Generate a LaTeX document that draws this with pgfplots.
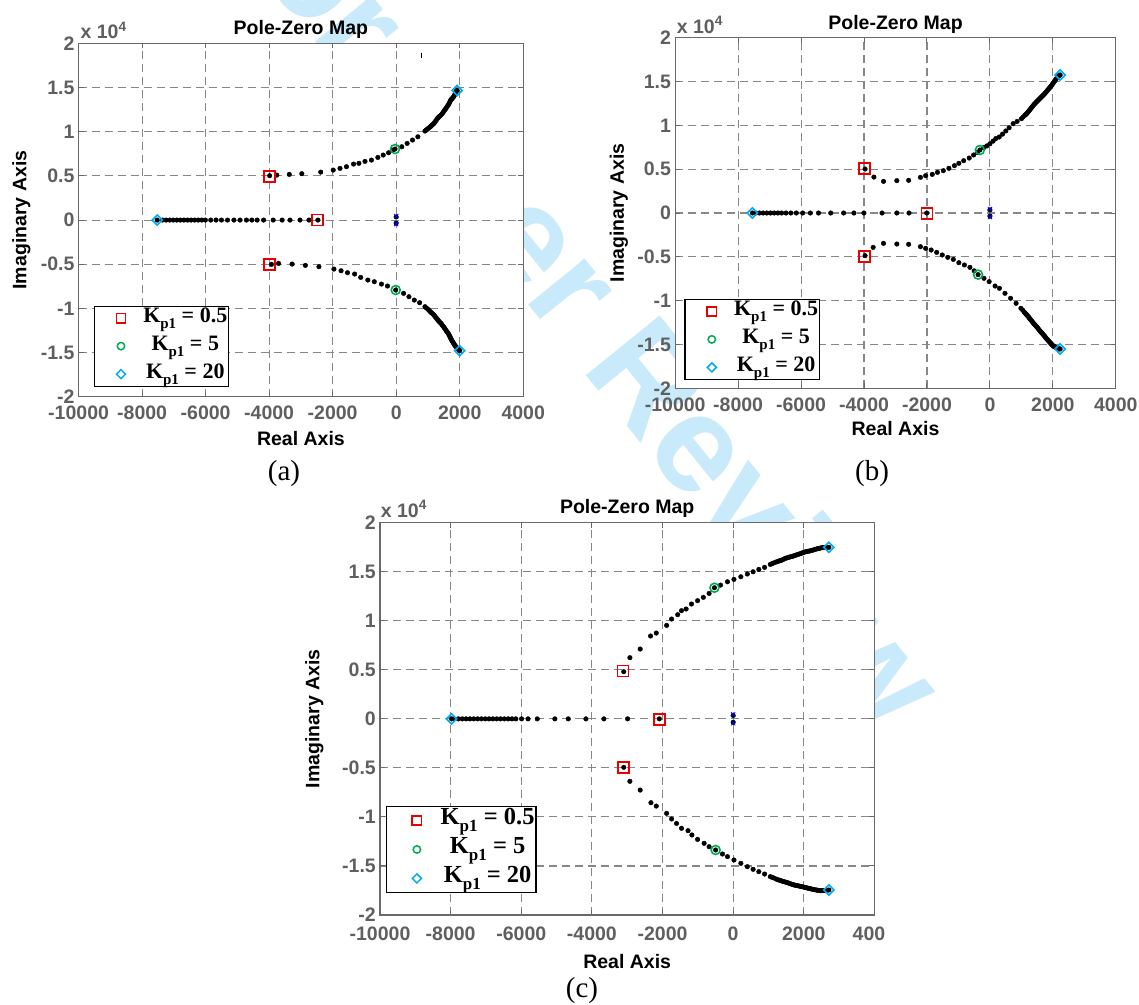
\documentclass[border=0pt]{standalone}
\usepackage{fontspec}
\usepackage{pgfplots}
\pgfplotsset{compat=1.18}
\setmainfont{Liberation Sans}
\newfontfamily\arialf{Liberation Sans}
\newfontfamily\tnr{Liberation Serif}
\definecolor{tickgray}{RGB}{95,95,95}
\definecolor{gridgray}{RGB}{135,135,135}
\definecolor{boxgray}{RGB}{105,105,105}
\definecolor{mkgreen}{RGB}{0,170,80}
\definecolor{mkcyan}{RGB}{0,170,240}
\definecolor{mkred}{RGB}{235,0,0}
\definecolor{wmark}{RGB}{200,234,250}
\newcommand{\kp}[1]{K\raisebox{-0.28em}{\fontsize{15}{15}\selectfont p1} = #1}
\newcommand{\kpc}[1]{K\raisebox{-0.28em}{\fontsize{17}{17}\selectfont p1} = #1}
\pgfplotsset{
  pzmap/.style={
    scale only axis,
    xmin=-10000, xmax=4000, ymin=-2, ymax=2,
    scaled x ticks=false, scaled y ticks=false,
    xtick={-10000,-8000,-6000,-4000,-2000,0,2000,4000},
    ytick={-2,-1.5,-1,-0.5,0,0.5,1,1.5,2},
    xticklabels={-10000,-8000,-6000,-4000,-2000,0,2000,4000},
    yticklabels={-2,-1.5,-1,-0.5,0,0.5,1,1.5,2},
    tick label style={font=\arialf\bfseries\fontsize{19.5}{20}\selectfont, text=tickgray},
    xticklabel style={anchor=north, inner sep=0pt},
    yticklabel style={anchor=east, inner sep=0pt, xshift=-4pt},
    grid=major,
    major grid style={gridgray, line width=1.1pt, dash pattern=on 8pt off 5pt},
    axis line style={boxgray, line width=1.3pt},
    tick style={boxgray, line width=1pt},
    tick align=inside,
    major tick length=5pt,
    title=Pole-Zero Map,
    xlabel=Real Axis,
    ylabel=Imaginary Axis,
    every axis title/.style={font=\arialf\bfseries\fontsize{19.5}{20}\selectfont, anchor=base, inner sep=0pt},
    every axis x label/.style={font=\arialf\bfseries\fontsize{19.5}{20}\selectfont, anchor=base, inner sep=0pt},
    every axis y label/.style={font=\arialf\bfseries\fontsize{19.5}{20}\selectfont, anchor=base, inner sep=0pt, rotate=90},
    axis background/.style={fill=white},
    legend style={draw=black, line width=1.2pt, fill=white, inner xsep=1.5pt, inner ysep=1pt,
      row sep=6pt, anchor=south west,
      /tikz/every odd column/.append style={column sep=12pt},
      nodes={inner sep=0pt, text height=15pt, text depth=7pt}},
    legend cell align=center,
    legend image code/.code={\path (0pt,0pt) (34pt,0pt); \draw[#1] plot coordinates {(24.5pt,0pt)};},
  },
  dots/.style={only marks, mark=*, mark size=2.3pt, black, forget plot},
  sq/.style={only marks, mark=square, mark size=5.5pt, mkred, line width=1.8pt, forget plot},
  ci/.style={only marks, mark=o, mark size=4.5pt, mkgreen, line width=1.6pt, forget plot},
  di/.style={only marks, mark=square, mark size=3.6pt, mark options={rotate=45}, mkcyan, line width=1.6pt, forget plot},
  lsq/.style={only marks, mark=square, mark size=4.6pt, mkred, line width=1.6pt},
  lci/.style={only marks, mark=o, mark size=3.7pt, mkgreen, line width=1.5pt},
  ldi/.style={only marks, mark=square, mark size=3.2pt, mark options={rotate=45}, mkcyan, line width=1.5pt},
}
\begin{document}
\begin{tikzpicture}
\useasboundingbox (0pt,0pt) rectangle (1139pt,-1004pt);
\fill[white] (0pt,0pt) rectangle (1139pt,-1004pt);
\node[rotate=-51, text=wmark, font=\arialf\bfseries\fontsize{138}{138}\selectfont] at (580pt,-290pt) {For Peer Review};

% ---------------- (a) ----------------
\begin{axis}[pzmap, name=pa, at={(78.6pt,-396.7pt)}, anchor=south west, width=444.6pt, height=353.3pt,
  title style={at={(axis description cs:0.5,1)}, yshift=9pt},
  xlabel style={at={(axis description cs:0.5,0)}, yshift=-48.6pt},
  ylabel style={at={(axis description cs:-0.1172,0.5)}},
  xticklabel style={yshift=-9.2pt},
  legend style={at={(axis description cs:0.0337,0.0283)}, font=\tnr\bfseries\fontsize{22}{24}\selectfont}]
\addlegendimage{lsq}\addlegendentry{\kp{0.5}}
\addlegendimage{lci}\addlegendentry{\kp{5}}
\addlegendimage{ldi}\addlegendentry{\kp{20}}
\addplot[dots] coordinates {
(-3984,0.502)(-3759,0.509)(-3366,0.517)(-2972,0.525)(-2376,0.543)(-1982,0.566)(-1769,0.585)(-1566,0.604)
(-1342,0.634)(-1173,0.642)(-982,0.664)(-779,0.679)(-577,0.709)(-408,0.736)(-240,0.762)(-105,0.792)(-37,0.804)
(177,0.830)(345,0.868)(514,0.906)(683,0.943)(907,1.008)(940,1.017)(970,1.026)(1000,1.035)(1040,1.046)
(1076,1.057)(1100,1.065)(1130,1.075)(1160,1.084)(1188,1.094)(1215,1.107)(1240,1.12)(1270,1.135)(1301,1.151)
(1325,1.160)(1350,1.17)(1380,1.179)(1413,1.189)(1440,1.201)(1470,1.215)(1500,1.231)(1526,1.245)(1555,1.258)
(1580,1.272)(1610,1.287)(1638,1.302)(1660,1.316)(1680,1.33)(1700,1.344)(1717,1.358)(1740,1.367)(1760,1.376)
(1785,1.386)(1807,1.396)(1830,1.41)(1850,1.425)(1875,1.445)(1897,1.464)(1920,1.468)};
\addplot[dots] coordinates {
(-3928,-0.502)(-3703,-0.491)(-3276,-0.498)(-2860,-0.513)(-2432,-0.528)(-1960,-0.555)(-1735,-0.574)(-1533,-0.596)
(-1308,-0.611)(-1117,-0.649)(-892,-0.679)(-689,-0.698)(-464,-0.725)(-273,-0.747)(-15,-0.792)(233,-0.830)
(402,-0.868)(570,-0.906)(739,-0.936)(907,-0.981)(950,-0.995)(1000,-1.01)(1040,-1.024)(1076,-1.038)(1100,-1.046)
(1130,-1.055)(1160,-1.065)(1188,-1.075)(1215,-1.087)(1240,-1.10)(1270,-1.112)(1301,-1.125)(1325,-1.136)
(1350,-1.148)(1380,-1.159)(1413,-1.170)(1440,-1.184)(1470,-1.198)(1500,-1.212)(1526,-1.226)(1555,-1.240)
(1580,-1.255)(1610,-1.269)(1638,-1.283)(1660,-1.296)(1680,-1.31)(1700,-1.325)(1717,-1.340)(1740,-1.354)
(1760,-1.368)(1785,-1.382)(1807,-1.396)(1830,-1.408)(1850,-1.42)(1875,-1.431)(1897,-1.442)(1925,-1.452)
(1950,-1.46)(1975,-1.47)(2000,-1.479)};
\addplot[dots] coordinates {
(-7526,0)(-7357,0)(-7245,0)(-7133,0)(-7020,0)(-6908,0)(-6795,0)(-6683,0)(-6570,0)(-6458,0)(-6345,0)(-6233,0)
(-6121,0)(-6008,0)(-5839,0)(-5671,0)(-5502,0)(-5311,0)(-5109,0)(-4917,0)(-4715,0)(-4546,0)(-4378,0)(-4175,0)
(-3872,0)(-3590,0)(-3343,0)(-3028,0)(-2747,0)(-2466,0)};
\addplot[dots] coordinates {(0,0.035)(0,-0.035)};
\addplot[only marks, mark=x, mark size=3pt, blue, line width=0.8pt, forget plot] coordinates {(0,0.045)(0,-0.045)};
\addplot[only marks, mark=|, mark size=2.5pt, black, line width=1pt, forget plot] coordinates {(800,1.866)};
\addplot[sq] coordinates {(-4000,0.49)(-3990,-0.502)(-2466,0)};
\addplot[ci] coordinates {(-37,0.804)(-15,-0.792)};
\addplot[di] coordinates {(1920,1.468)(2000,-1.479)(-7526,0)};
\end{axis}
\node[anchor=base west, inner sep=0pt, text=tickgray, font=\arialf\bfseries\fontsize{19.5}{20}\selectfont] at ([xshift=1.8pt,yshift=4.6pt]pa.north west) {x 10\textsuperscript{4}};

% ---------------- (b) ----------------
\begin{axis}[pzmap, name=pb, at={(675.2pt,-388.3pt)}, anchor=south west, width=440.6pt, height=350.6pt,
  title style={at={(axis description cs:0.5,1)}, yshift=8pt},
  xlabel style={at={(axis description cs:0.5,0)}, yshift=-47pt},
  ylabel style={at={(axis description cs:-0.1164,0.5)}},
  xticklabel style={yshift=-9.2pt},
  legend style={at={(axis description cs:0.0209,0.0237)}, font=\tnr\bfseries\fontsize{22}{24}\selectfont}]
\addlegendimage{lsq}\addlegendentry{\kp{0.5}}
\addlegendimage{lci}\addlegendentry{\kp{5}}
\addlegendimage{ldi}\addlegendentry{\kp{20}}
\addplot[dots] coordinates {
(-3968,0.502)(-3686,0.41)(-3381,0.361)(-2958,0.369)(-2583,0.373)(-2208,0.407)(-2043,0.426)(-1832,0.441)
(-1668,0.464)(-1480,0.483)(-1304,0.51)(-1128,0.54)(-987,0.567)(-834,0.597)(-658,0.627)(-518,0.662)(-400,0.69)
(-320,0.719)(-200,0.745)(-100,0.765)(0,0.79)(100,0.82)(189,0.85)(295,0.867)(400,0.90)(505,0.936)(610,0.973)
(737,1.019)(863,1.045)(1000,1.076)(1052,1.095)(1105,1.114)(1133,1.122)(1160,1.13)(1185,1.141)(1210,1.152)
(1237,1.164)(1263,1.176)(1290,1.188)(1316,1.2)(1342,1.212)(1368,1.223)(1395,1.235)(1421,1.246)(1448,1.256)
(1474,1.265)(1500,1.275)(1526,1.284)(1553,1.294)(1579,1.303)(1605,1.313)(1632,1.322)(1658,1.332)(1684,1.341)
(1710,1.35)(1737,1.36)(1763,1.371)(1790,1.382)(1816,1.394)(1842,1.405)(1868,1.417)(1895,1.428)(1921,1.439)
(1947,1.45)(1974,1.464)(2000,1.477)(2027,1.49)(2053,1.504)(2079,1.517)(2105,1.53)(2132,1.544)(2158,1.557)
(2180,1.564)(2200,1.57)(2230,1.575)};
\addplot[dots] coordinates {
(-3968,-0.487)(-3710,-0.392)(-3381,-0.346)(-2958,-0.354)(-2583,-0.357)(-2208,-0.384)(-2043,-0.403)(-1867,-0.422)
(-1691,-0.449)(-1515,-0.479)(-1339,-0.506)(-1163,-0.529)(-987,-0.567)(-811,-0.593)(-635,-0.62)(-500,-0.66)
(-377,-0.703)(-189,-0.745)(-25,-0.783)(163,-0.833)(303,-0.859)(479,-0.916)(656,-0.973)(832,-1.03)(985,-1.087)
(1040,-1.108)(1090,-1.13)(1115,-1.14)(1140,-1.15)(1165,-1.16)(1190,-1.17)(1215,-1.181)(1240,-1.192)(1265,-1.204)
(1290,-1.215)(1315,-1.226)(1340,-1.237)(1365,-1.249)(1390,-1.26)(1415,-1.27)(1440,-1.28)(1465,-1.29)(1490,-1.30)
(1515,-1.311)(1540,-1.322)(1565,-1.334)(1590,-1.345)(1615,-1.355)(1640,-1.365)(1665,-1.375)(1690,-1.385)
(1715,-1.396)(1740,-1.407)(1765,-1.419)(1790,-1.43)(1815,-1.44)(1840,-1.45)(1865,-1.46)(1890,-1.47)(1915,-1.48)
(1940,-1.49)(1965,-1.5)(1990,-1.51)(2015,-1.516)(2040,-1.522)(2065,-1.529)(2090,-1.535)(2115,-1.539)
(2140,-1.543)(2160,-1.547)(2180,-1.55)(2205,-1.551)(2230,-1.551)};
\addplot[dots] coordinates {
(-7547,0)(-7442,0)(-7324,0)(-7207,0)(-7090,0)(-6972,0)(-6855,0)(-6737,0)(-6620,0)(-6479,0)(-6327,0)(-6151,0)
(-5951,0)(-5705,0)(-5447,0)(-5059,0)(-4649,0)(-4320,0)(-4003,0)(-3428,0)(-2959,0)(-2571,0)(-2008,0)};
\addplot[dots] coordinates {(0,0.035)(0,-0.035)};
\addplot[only marks, mark=x, mark size=3pt, blue, line width=0.8pt, forget plot] coordinates {(0,0.045)(0,-0.045)};
\addplot[sq] coordinates {(-3985,0.51)(-3985,-0.498)(-2000,-0.005)};
\addplot[ci] coordinates {(-320,0.719)(-377,-0.703)};
\addplot[di] coordinates {(2230,1.575)(2230,-1.551)(-7547,0)};
\end{axis}
\node[anchor=base west, inner sep=0pt, text=tickgray, font=\arialf\bfseries\fontsize{19.5}{20}\selectfont] at ([xshift=1.5pt,yshift=4.7pt]pb.north west) {x 10\textsuperscript{4}};

% ---------------- (c) ----------------
\begin{axis}[pzmap, name=pc, at={(380pt,-915pt)}, anchor=south west, width=494.4pt, height=392.3pt,
  xticklabels={-10000,-8000,-6000,-4000,-2000,0,2000,\rlap{400}\phantom{4000}},
  title style={at={(axis description cs:0.5,1)}, yshift=9.7pt},
  xlabel style={at={(axis description cs:0.5,0)}, yshift=-53.7pt},
  ylabel style={at={(axis description cs:-0.1228,0.5)}},
  xticklabel style={yshift=-11.3pt},
  legend image code/.code={\path (0pt,0pt) (36pt,0pt); \draw[#1] plot coordinates {(28.3pt,0pt)};},
  legend style={at={(axis description cs:0.0115,0.0553)}, font=\tnr\bfseries\fontsize{24.5}{26}\selectfont,
    row sep=4.5pt, inner ysep=2pt, /tikz/every odd column/.append style={column sep=15.3pt},
    nodes={inner sep=0pt, text height=16.5pt, text depth=8pt}}]
\addlegendimage{lsq}\addlegendentry{\kpc{0.5}}
\addlegendimage{lci}\addlegendentry{\kpc{5}}
\addlegendimage{ldi}\addlegendentry{\kpc{20}}
\addplot[dots] coordinates {
(-3098,0.481)(-2924,0.624)(-2632,0.712)(-2339,0.845)(-2177,0.875)(-1884,0.953)(-1744,1.018)(-1570,1.062)
(-1462,1.103)(-1332,1.12)(-1180,1.171)(-1007,1.205)(-844,1.239)(-681,1.279)(-530,1.337)(-357,1.364)(-161,1.398)
(23,1.422)(218,1.449)(402,1.477)(565,1.5)(727,1.524)(890,1.545)(1052,1.575)(1100,1.582)(1150,1.59)(1215,1.599)
(1260,1.605)(1300,1.61)(1340,1.614)(1377,1.619)(1420,1.626)(1460,1.634)(1500,1.639)(1540,1.643)(1580,1.648)
(1620,1.652)(1660,1.656)(1702,1.66)(1740,1.665)(1780,1.67)(1820,1.675)(1864,1.68)(1905,1.685)(1945,1.69)
(1985,1.696)(2027,1.701)(2070,1.705)(2110,1.708)(2150,1.711)(2190,1.714)(2230,1.718)(2270,1.722)(2310,1.727)
(2352,1.731)(2390,1.735)(2430,1.738)(2470,1.742)(2515,1.745)(2560,1.747)(2600,1.748)(2640,1.749)(2680,1.749)
(2710,1.749)};
\addplot[dots] coordinates {
(-3098,-0.494)(-2924,-0.637)(-2632,-0.726)(-2328,-0.855)(-2177,-0.889)(-1884,-0.963)(-1744,-1.021)(-1603,-1.066)
(-1462,-1.116)(-1278,-1.14)(-1169,-1.184)(-1007,-1.229)(-822,-1.269)(-681,-1.303)(-497,-1.337)(-302,-1.378)
(-161,-1.405)(23,-1.439)(218,-1.473)(402,-1.507)(565,-1.534)(727,-1.558)(890,-1.582)(1052,-1.609)(1100,-1.615)
(1150,-1.622)(1215,-1.633)(1260,-1.639)(1300,-1.644)(1340,-1.648)(1377,-1.653)(1420,-1.658)(1460,-1.662)
(1500,-1.666)(1540,-1.67)(1580,-1.676)(1620,-1.681)(1660,-1.686)(1702,-1.691)(1740,-1.695)(1780,-1.698)
(1820,-1.701)(1864,-1.704)(1905,-1.708)(1945,-1.711)(1985,-1.714)(2027,-1.718)(2070,-1.722)(2110,-1.725)
(2150,-1.729)(2190,-1.732)(2230,-1.736)(2270,-1.739)(2310,-1.742)(2352,-1.745)(2390,-1.747)(2430,-1.749)
(2470,-1.751)(2515,-1.752)(2560,-1.751)(2600,-1.75)(2650,-1.748)(2710,-1.745)};
\addplot[dots] coordinates {
(-7974,0)(-7909,0)(-7779,0)(-7670,0)(-7562,0)(-7454,0)(-7345,0)(-7237,0)(-7129,0)(-7020,0)(-6912,0)(-6804,0)
(-6695,0)(-6587,0)(-6478,0)(-6370,0)(-6262,0)(-6153,0)(-5991,0)(-5807,0)(-5547,0)(-5048,0)(-4669,0)(-4170,0)
(-3661,0)(-2990,0)(-2090,0)};
\addplot[dots] coordinates {(0,0.035)(0,-0.035)};
\addplot[only marks, mark=x, mark size=3pt, blue, line width=0.8pt, forget plot] coordinates {(0,0.045)(0,-0.045)};
\addplot[sq] coordinates {(-3119,0.488)(-3098,-0.494)(-2090,-0.005)};
\addplot[ci] coordinates {(-530,1.337)(-497,-1.337)};
\addplot[di] coordinates {(2710,1.749)(2710,-1.745)(-7974,0)};
\end{axis}
\node[anchor=base west, inner sep=0pt, text=tickgray, font=\arialf\bfseries\fontsize{19.5}{20}\selectfont] at ([xshift=0.7pt,yshift=5.7pt]pc.north west) {x 10\textsuperscript{4}};

\node[anchor=base, inner sep=0pt, font=\tnr\fontsize{29}{29}\selectfont] at (284pt,-480pt) {(a)};
\node[anchor=base, inner sep=0pt, font=\tnr\fontsize{29}{29}\selectfont] at (872pt,-480pt) {(b)};
\node[anchor=base, inner sep=0pt, font=\tnr\fontsize{29}{29}\selectfont] at (582pt,-997pt) {(c)};
\end{tikzpicture}
\end{document}
